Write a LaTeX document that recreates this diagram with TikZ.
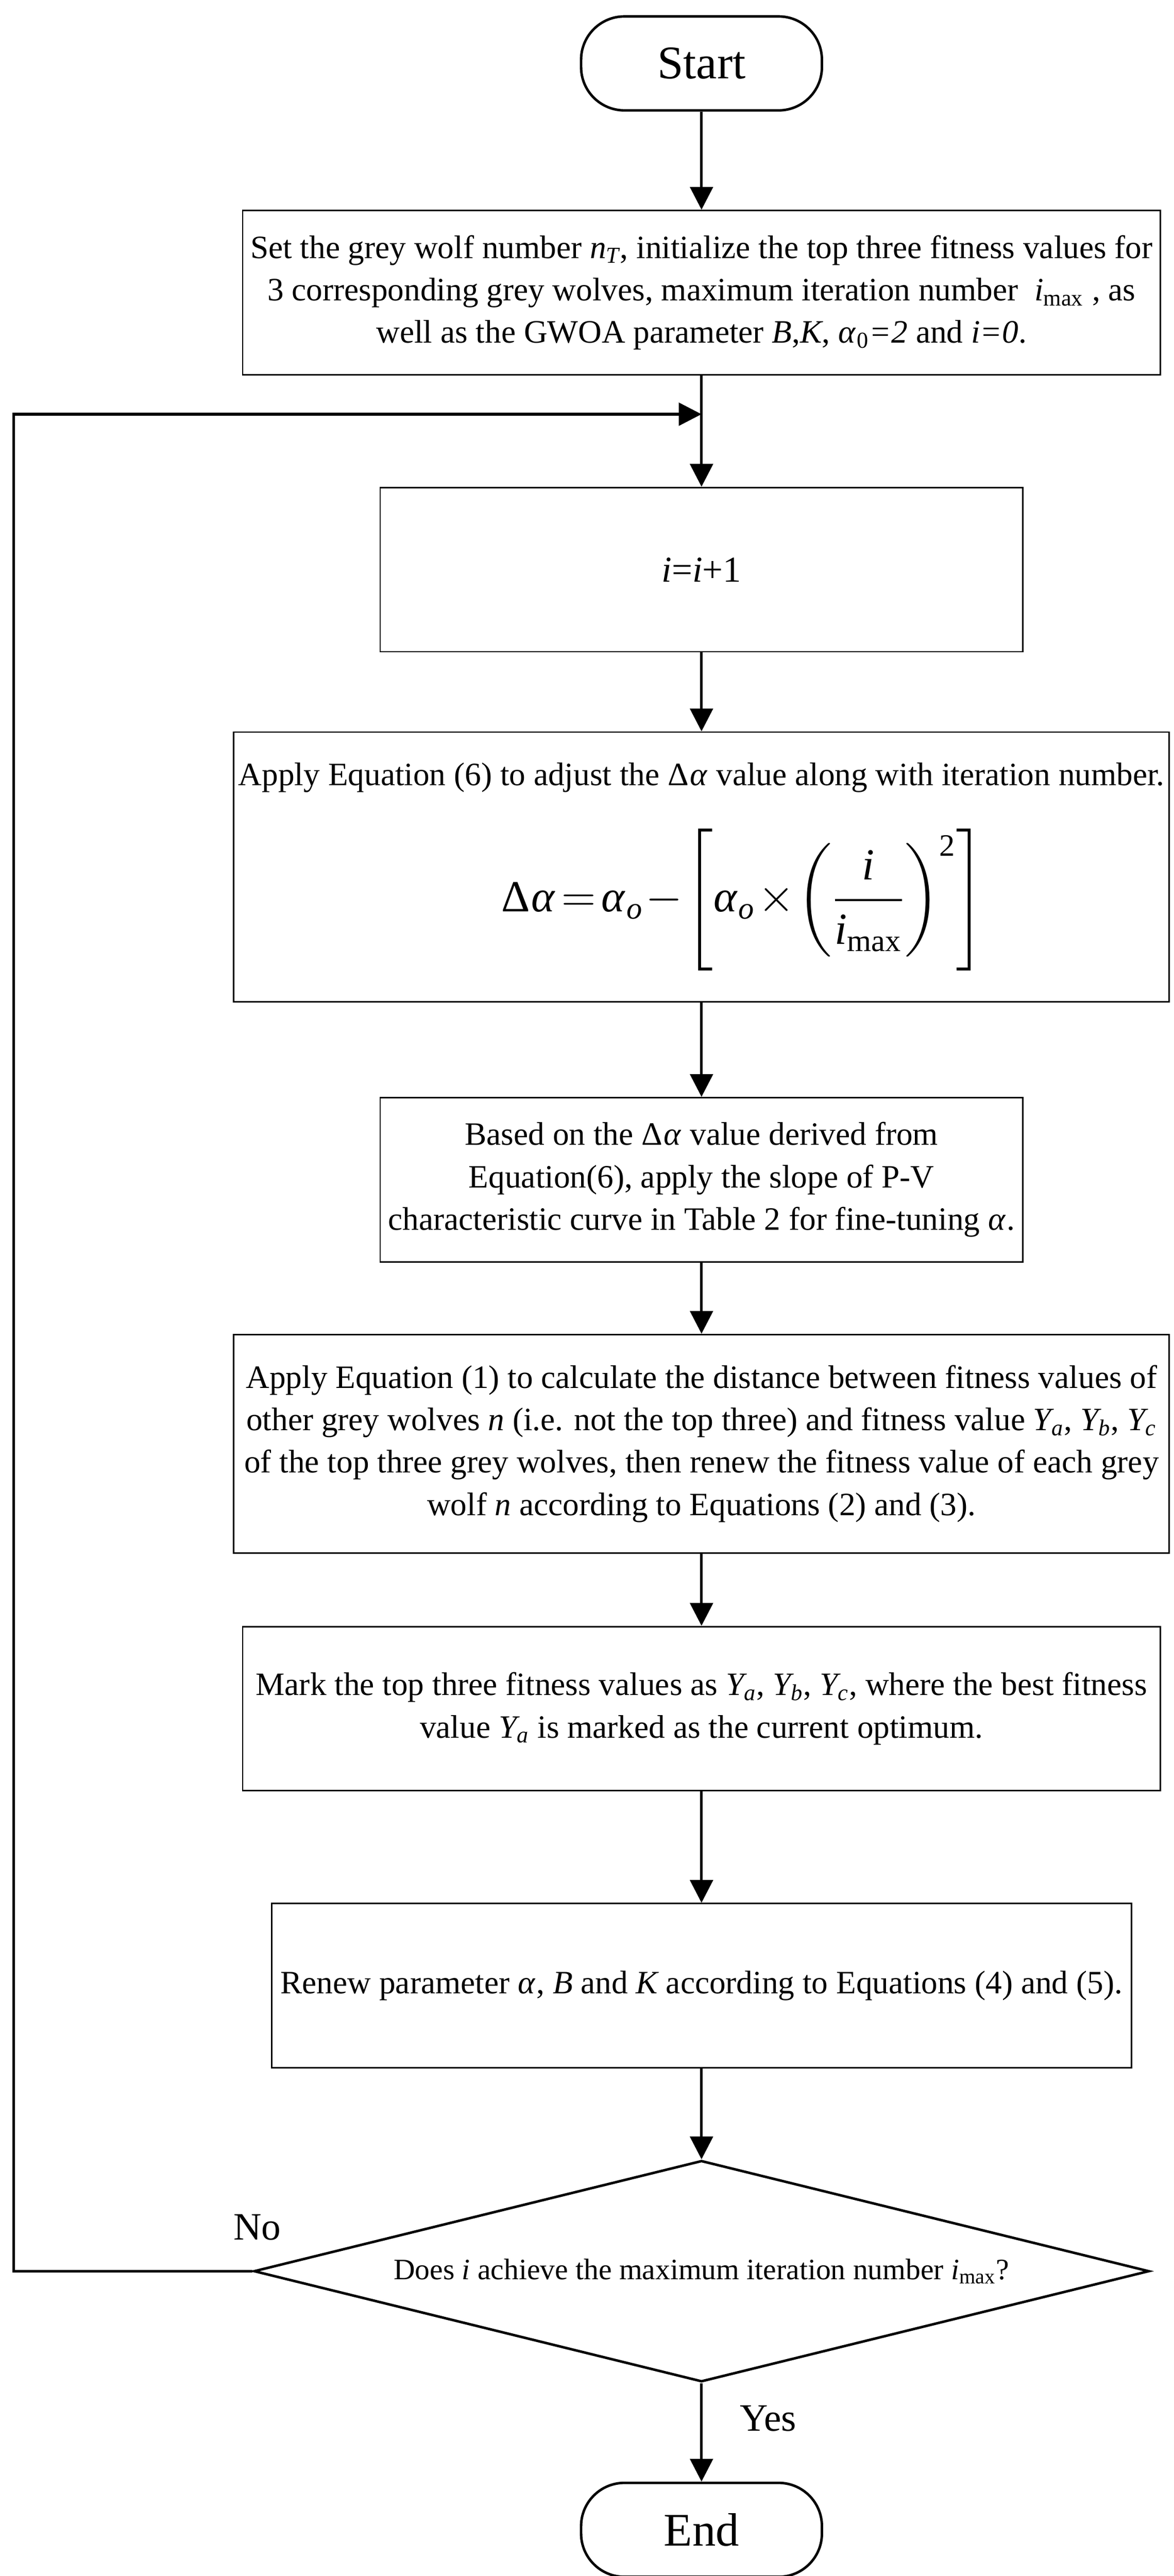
\documentclass[tikz,border=0pt]{standalone}
\usepackage{amsmath}
\usepackage{mathspec}
\setmainfont{Liberation Serif}
\setmathsfont(Digits,Latin)[Scale=1]{Liberation Serif}
\setmathsfont(Greek)[Uppercase=Regular,Lowercase=Italic]{Liberation Serif}
\setmathrm{Liberation Serif}
\usetikzlibrary{arrows.meta}
\usetikzlibrary{positioning, shapes.geometric}
\tikzset{
	terminal/.style = {
		draw,
		line width=1.1pt,
		rounded corners=19pt,
		minimum width=105.6pt,
		minimum height=41.2pt,
		font=\fontsize{20.5}{24}\selectfont
	},
	process/.style = {
		draw,
		line width=0.65pt,
		minimum height=72pt,
		inner sep=1.5pt,
		align=center
	},
	decision/.style = {
		draw,
		diamond,
		line width=1.1pt,
		aspect=4.05,
		minimum width=392.6pt,
		minimum height=97pt,
		inner sep=0pt,
		font=\fontsize{13}{15}\selectfont
	},
	flowline/.style = {
		line width=1.2pt
	}
}
\begin{document}
\begin{tikzpicture}[
		>={Triangle[length=10pt,width=10pt]},
		font=\fontsize{14.3}{18.6}\selectfont,
	]

	% Fix the canvas
	\useasboundingbox (0,0) rectangle (514.6pt,-1129.4pt);

	% Draw the steps
	\node (start) [terminal] at (307.6pt,-27.8pt) {Start};

	\node (init) [process, below=43pt of start, minimum width=402.4pt]
		{Set the grey wolf number $n_T$, initialize the top three fitness values for\\
		3 corresponding grey wolves, maximum iteration number \ $i_{\max}$ , as\\
		well as the GWOA parameter $B$,$K$, $\alpha_0$\textit{=2} and \textit{i=0}.};

	\node (step) [process, below=48.8pt of init, minimum width=281.8pt,
		font=\fontsize{16}{19}\selectfont] {$i$=$i$+1};

	\node (adjust) [process, below=34.6pt of step, minimum width=410.2pt, minimum height=118.2pt]
		{Apply Equation (6) to adjust the $\Delta\alpha$ value along with iteration number.\\[15pt]
		\hspace*{36pt}{\fontsize{19.5}{22}\selectfont\thickmuskip=2mu\medmuskip=1mu
		$\Delta\alpha=\alpha_o-\left[\alpha_o\times\left(\dfrac{i}{i_{\max}}\right)^{2}\right]$}};

	\node (tune) [process, below=41.4pt of adjust, minimum width=281.8pt]
		{Based on the $\Delta\alpha$ value derived from\\
		Equation(6), apply the slope of P-V\\
		characteristic curve in Table 2 for fine-tuning $\alpha$.};

	\node (renewfit) [process, below=31.2pt of tune, minimum width=410.2pt, minimum height=95.8pt]
		{Apply Equation (1) to calculate the distance between fitness values of\\
		other grey wolves $n$ (i.e. not the top three) and fitness value $Y_a$, $Y_b$, $Y_c$\\
		of the top three grey wolves, then renew the fitness value of each grey\\
		wolf $n$ according to Equations (2) and (3).};

	\node (mark) [process, below=31.6pt of renewfit, minimum width=402.4pt]
		{Mark the top three fitness values as $Y_a$, $Y_b$, $Y_c$, where the best fitness\\
		value $Y_a$ is marked as the current optimum.};

	\node (renewpar) [process, below=48.8pt of mark, minimum width=377pt]
		{Renew parameter $\alpha$, $B$ and $K$ according to Equations (4) and (5).};

	\node (dec) [decision, below=39.8pt of renewpar]
		{Does $i$ achieve the maximum iteration number $i_{\max}$?};

	\node (stop) [terminal, below=43.2pt of dec] {End};

	% Points for the loop back
	\coordinate [below=17pt of init] (join);
	\coordinate (edge) at (6pt,0);

	% Draw the connectors
	\draw[flowline, ->] (start) -- (init);
	\draw[flowline, ->] (init) -- (step);
	\draw[flowline, ->] (step) -- (adjust);
	\draw[flowline, ->] (adjust) -- (tune);
	\draw[flowline, ->] (tune) -- (renewfit);
	\draw[flowline, ->] (renewfit) -- (mark);
	\draw[flowline, ->] (mark) -- (renewpar);
	\draw[flowline, ->] (renewpar) -- (dec);
	\draw[flowline, ->] (dec) -- node (yes) [right=13pt, yshift=6pt, font=\fontsize{17}{20}\selectfont] {Yes} (stop);
	\draw[flowline, ->] (dec.west) -- (dec.west -| edge) |- (join);

	\node (no) [above=10pt of dec.west, xshift=2pt, font=\fontsize{17}{20}\selectfont] {No};

\end{tikzpicture}
\end{document}
